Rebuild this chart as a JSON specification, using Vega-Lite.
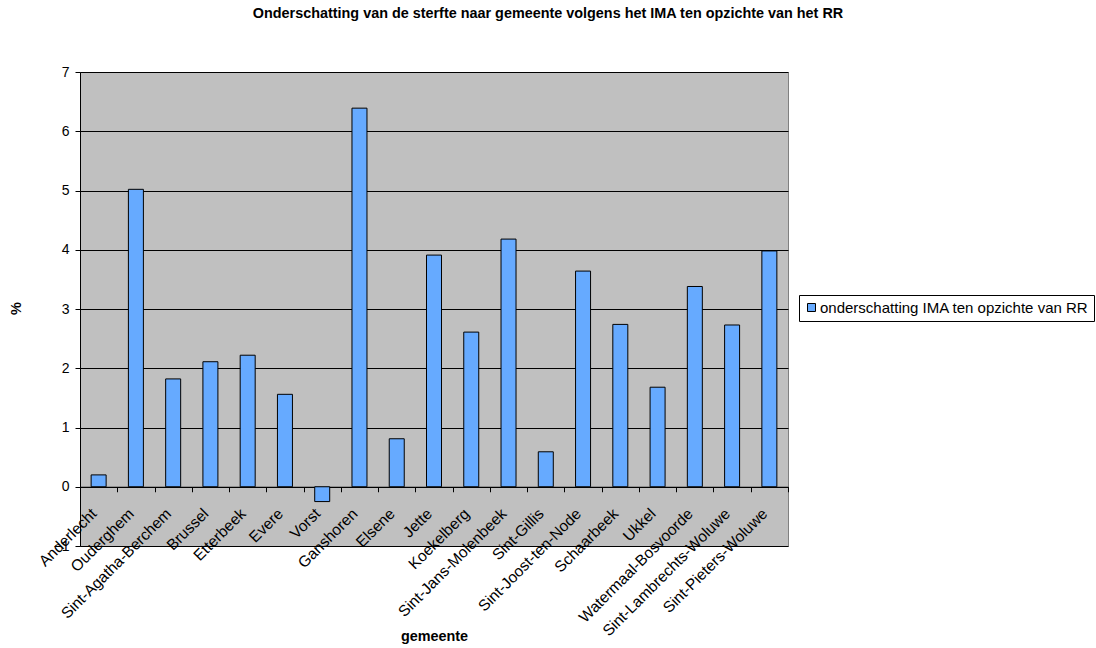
{
  "$schema": "https://vega.github.io/schema/vega-lite/v6.json",
  "width": 708,
  "height": 474,
  "autosize": {"type": "none"},
  "padding": {"left": 80, "top": 72, "right": 308, "bottom": 102},
  "background": "white",
  "title": {
    "text": "Onderschatting van de sterfte naar gemeente volgens het IMA ten opzichte van het RR",
    "font": "Liberation Sans",
    "fontSize": 14.4,
    "fontWeight": "bold",
    "color": "black",
    "anchor": "middle",
    "dx": 114,
    "offset": 44
  },
  "config": {
    "view": {"fill": "#C0C0C0", "stroke": "#808080", "strokeWidth": 1},
    "font": "Liberation Sans"
  },
  "data": {
    "values": [
      {"gemeente": "Anderlecht", "pct": 0.2},
      {"gemeente": "Ouderghem", "pct": 5.02},
      {"gemeente": "Sint-Agatha-Berchem", "pct": 1.82},
      {"gemeente": "Brussel", "pct": 2.11},
      {"gemeente": "Etterbeek", "pct": 2.22},
      {"gemeente": "Evere", "pct": 1.56},
      {"gemeente": "Vorst", "pct": -0.25},
      {"gemeente": "Ganshoren", "pct": 6.39},
      {"gemeente": "Elsene", "pct": 0.81},
      {"gemeente": "Jette", "pct": 3.91},
      {"gemeente": "Koekelberg", "pct": 2.61},
      {"gemeente": "Sint-Jans-Molenbeek", "pct": 4.18},
      {"gemeente": "Sint-Gillis", "pct": 0.59},
      {"gemeente": "Sint-Joost-ten-Node", "pct": 3.64},
      {"gemeente": "Schaarbeek", "pct": 2.74},
      {"gemeente": "Ukkel", "pct": 1.68},
      {"gemeente": "Watermaal-Bosvoorde", "pct": 3.38},
      {"gemeente": "Sint-Lambrechts-Woluwe", "pct": 2.73},
      {"gemeente": "Sint-Pieters-Woluwe", "pct": 3.98}
    ]
  },
  "mark": {"type": "bar", "size": 15, "stroke": "black", "strokeWidth": 1},
  "encoding": {
    "x": {
      "field": "gemeente",
      "type": "nominal",
      "sort": null,
      "scale": {"paddingInner": 0, "paddingOuter": 0},
      "axis": {
        "title": "gemeente",
        "titleFont": "Liberation Sans",
        "titleFontSize": 14.4,
        "titleFontWeight": "bold",
        "titleColor": "black",
        "titleBaseline": "middle",
        "titleY": 150,
        "offset": -59.25,
        "labelAngle": -45,
        "labelAlign": "right",
        "labelBaseline": "middle",
        "labelPadding": 19,
        "labelOffset": -5,
        "labelFont": "Liberation Sans",
        "labelFontSize": 15.5,
        "labelColor": "black",
        "labelOverlap": false,
        "labelLimit": 0,
        "tickBand": "extent",
        "tickColor": "black",
        "tickSize": 5,
        "domainColor": "black",
        "grid": false
      }
    },
    "y": {
      "field": "pct",
      "type": "quantitative",
      "scale": {"domain": [-1, 7], "nice": false, "zero": false},
      "axis": {
        "title": "%",
        "titleFont": "Liberation Sans",
        "titleFontSize": 14.4,
        "titleFontWeight": "bold",
        "titleColor": "black",
        "titleX": -64,
        "titleY": 236,
        "titleAlign": "center",
        "titleBaseline": "middle",
        "values": [-1, 0, 1, 2, 3, 4, 5, 6, 7],
        "labelFont": "Liberation Sans",
        "labelFontSize": 14,
        "labelColor": "black",
        "labelPadding": 6,
        "tickColor": "black",
        "tickSize": 5,
        "domainColor": "black",
        "grid": true,
        "gridColor": "black",
        "gridOpacity": 1,
        "gridWidth": 1
      }
    },
    "color": {
      "datum": "onderschatting IMA ten opzichte van RR",
      "type": "nominal",
      "scale": {"range": ["#66AAFF"]},
      "legend": {
        "title": null,
        "orient": "none",
        "legendX": 719,
        "legendY": 223,
        "symbolType": "square",
        "symbolSize": 64,
        "symbolStrokeColor": "black",
        "symbolStrokeWidth": 1,
        "labelFont": "Liberation Sans",
        "labelFontSize": 15,
        "labelColor": "black",
        "labelOffset": 1,
        "labelLimit": 0,
        "strokeColor": "black",
        "fillColor": "white",
        "padding": 5
      }
    }
  }
}
